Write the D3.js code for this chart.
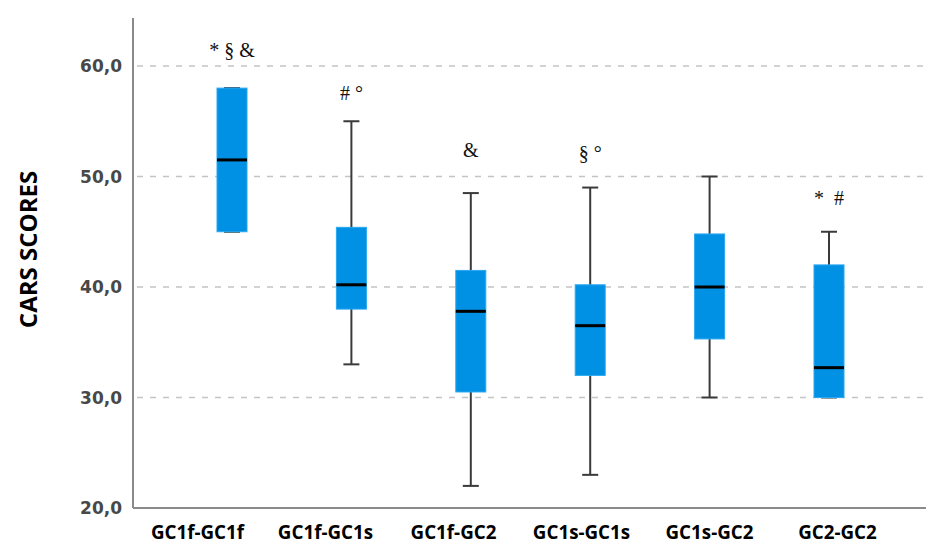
<!DOCTYPE html>
<html>
<head>
<meta charset="utf-8">
<script src="https://cdn.jsdelivr.net/npm/d3@7"></script>
<style>
  html, body { margin: 0; padding: 0; background: #ffffff; }
  svg { display: block; }
</style>
</head>
<body>
<svg id="chart" width="926" height="543"></svg>
<script>
// ---- data ----
const categories = ["GC1f-GC1f", "GC1f-GC1s", "GC1f-GC2", "GC1s-GC1s", "GC1s-GC2", "GC2-GC2"];
const whiskerLow  = [45.0, 33.0, 22.0, 23.0, 30.0, 30.0];
const q1          = [45.0, 38.0, 30.5, 32.0, 35.3, 30.0];
const median      = [51.5, 40.2, 37.8, 36.5, 40.0, 32.7];
const q3          = [58.0, 45.4, 41.5, 40.2, 44.8, 42.0];
const whiskerHigh = [58.0, 55.0, 48.5, 49.0, 50.0, 45.0];
const annotations = ["* \u00a7 &", "# \u00b0", "&", "\u00a7 \u00b0", "", "*\u00a0\u00a0#"];
const annotationLevel = [60.8, 56.9, 51.8, 51.5, 0, 47.4];
const yTicks = [20, 30, 40, 50, 60];
const yTickLabels = ["20,0", "30,0", "40,0", "50,0", "60,0"];
const yTitle = "CARS SCORES";

// ---- layout ----
const svg = d3.select("#chart");
const axisX = 133, axisTop = 18, axisBottom = 508, rightEdge = 926;

const y = d3.scaleLinear().domain([20, 60]).range([axisBottom, 66]);
const x = d3.scalePoint().domain(categories).range([232, 829]);
const xLabel = d3.scalePoint().domain(categories).range([197.5, 837.5]);
const boxW = 30, capW = 16;

// gridlines
svg.append("g").selectAll("line").data(yTicks.filter(d => d > 20)).join("line")
  .attr("x1", axisX + 4).attr("x2", rightEdge)
  .attr("y1", d => y(d)).attr("y2", d => y(d))
  .attr("stroke", "#c4c4c4").attr("stroke-width", 1.5)
  .attr("stroke-dasharray", "6,7");

// y tick labels
svg.append("g").selectAll("text").data(yTicks).join("text")
  .attr("x", 122).attr("y", d => y(d))
  .attr("dy", "0.36em")
  .attr("text-anchor", "end")
  .attr("font-family", "DejaVu Sans")
  .attr("font-weight", "bold")
  .attr("font-size", 17)
  .attr("fill", "#484848")
  .text((d, i) => yTickLabels[i]);

// axes lines
svg.append("line").attr("x1", axisX).attr("x2", axisX).attr("y1", axisTop).attr("y2", axisBottom)
  .attr("stroke", "#8a8a8a").attr("stroke-width", 2);
svg.append("line").attr("x1", axisX).attr("x2", rightEdge).attr("y1", axisBottom).attr("y2", axisBottom)
  .attr("stroke", "#8a8a8a").attr("stroke-width", 2);

// boxes
const g = svg.append("g").selectAll("g").data(categories).join("g");
g.append("line")
  .attr("x1", d => x(d)).attr("x2", d => x(d))
  .attr("y1", (d, i) => y(whiskerHigh[i])).attr("y2", (d, i) => y(whiskerLow[i]))
  .attr("stroke", "#3a3a3a").attr("stroke-width", 2);
g.append("line")
  .attr("x1", d => x(d) - capW / 2).attr("x2", d => x(d) + capW / 2)
  .attr("y1", (d, i) => y(whiskerHigh[i])).attr("y2", (d, i) => y(whiskerHigh[i]))
  .attr("stroke", "#3a3a3a").attr("stroke-width", 2);
g.append("line")
  .attr("x1", d => x(d) - capW / 2).attr("x2", d => x(d) + capW / 2)
  .attr("y1", (d, i) => y(whiskerLow[i])).attr("y2", (d, i) => y(whiskerLow[i]))
  .attr("stroke", "#3a3a3a").attr("stroke-width", 2);
g.append("rect")
  .attr("x", d => x(d) - boxW / 2).attr("width", boxW)
  .attr("y", (d, i) => y(q3[i])).attr("height", (d, i) => y(q1[i]) - y(q3[i]))
  .attr("fill", "#0090e4").attr("stroke", "#2aa8f2").attr("stroke-width", 1);
g.append("line")
  .attr("x1", d => x(d) - boxW / 2).attr("x2", d => x(d) + boxW / 2)
  .attr("y1", (d, i) => y(median[i])).attr("y2", (d, i) => y(median[i]))
  .attr("stroke", "#000").attr("stroke-width", 3);

// annotations
svg.append("g").selectAll("text").data(categories).join("text")
  .attr("x", d => x(d)).attr("y", (d, i) => y(annotationLevel[i]))
  .attr("text-anchor", "middle")
  .attr("font-family", "Liberation Serif")
  .attr("font-size", 20)
  .attr("fill", "#111")
  .text((d, i) => annotations[i]);

// x labels
svg.append("g").selectAll("text").data(categories).join("text")
  .attr("x", d => xLabel(d)).attr("y", 538.5)
  .attr("text-anchor", "middle")
  .attr("font-family", "Open Sans")
  .attr("font-weight", "bold")
  .attr("font-size", 18.8)
  .attr("fill", "#000")
  .text(d => d);

// y title
svg.append("text")
  .attr("transform", "translate(36.5,249.5) rotate(-90)")
  .attr("text-anchor", "middle")
  .attr("font-family", "Open Sans")
  .attr("font-weight", "bold")
  .attr("font-size", 24)
  .attr("fill", "#000")
  .text(yTitle);
</script>
</body>
</html>
